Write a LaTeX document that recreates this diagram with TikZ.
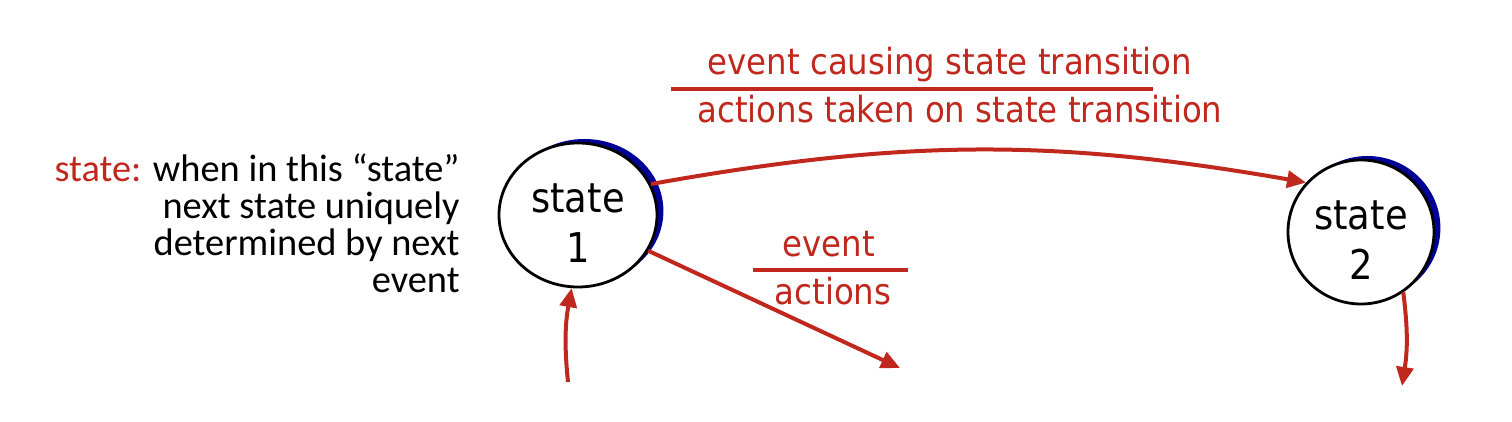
\documentclass[tikz,border=0pt]{standalone}
\usepackage{fontspec}
\setmainfont{Carlito}
\newfontfamily\cond{DejaVu Sans Condensed}
\usetikzlibrary{arrows.meta,shapes.geometric,shadows}
\definecolor{fsmred}{RGB}{192,40,30}
\definecolor{navy}{RGB}{0,0,150}
\newcommand{\lowered}[1]{\raisebox{-6.5pt}[\height][\depth]{\begin{tabular}{@{}c@{}}#1\end{tabular}}}
\begin{document}
\begin{tikzpicture}[x=0.5pt,y=-0.5pt,
 statenode/.style={ellipse,draw=black,line width=1.4pt,fill=white,inner sep=0pt,
   font=\cond\fontsize{20.5}{25}\selectfont,
   drop shadow={shadow xshift=3.2pt,shadow yshift=2pt,fill=navy,opacity=1}},
 trans/.style={draw=fsmred,line width=2pt,-{Triangle[length=9.5pt,width=8.5pt]}},
 lab/.style={text=fsmred,font=\cond\fontsize{18}{22}\selectfont,inner sep=0pt,anchor=base},
 rule/.style={draw=fsmred,line width=2.2pt},
 desc/.style={font=\fontsize{19.2}{18.5}\selectfont,inner sep=0pt,anchor=base east}]
\useasboundingbox (0,0) rectangle (1512,422);
\node[statenode,minimum width=79pt,minimum height=72pt] (s1) at (578,215) {\lowered{state\\1}};
\node[statenode,minimum width=73pt,minimum height=72pt] (s2) at (1361,232) {\lowered{state\\2}};
% labels
\node[lab] (t1) at (950,75) {event causing state transition};
\node[lab] (t2) at (960,123) {actions taken on state transition};
\draw[rule] (671,89) -- (1153,89);
\node[lab] (t3) at (829,257) {event};
\node[lab] (t4) at (833,305) {actions};
\draw[rule] (753,270) -- (908,270);
% description
\node[desc] (d1) at (460,182) {{\color{fsmred}state:} when in this “state”};
\node[desc] (d2) at (460,219) {next state uniquely};
\node[desc] (d3) at (460,256) {determined by next};
\node[desc] (d4) at (460,293) {event};
% connectors
\coordinate (c2) at (900,368);
\coordinate (c3) at (568,382);
\coordinate (c4) at (1402,386);
\draw[trans] (s1.23) to[bend left=10] (s2.138);
\draw[trans] (s1.-27) -- (c2);
\draw[trans] (c3) to[bend left=8] (s1.265);
\draw[trans] (s2.-55) to[bend left=8] (c4);
\end{tikzpicture}
\end{document}
